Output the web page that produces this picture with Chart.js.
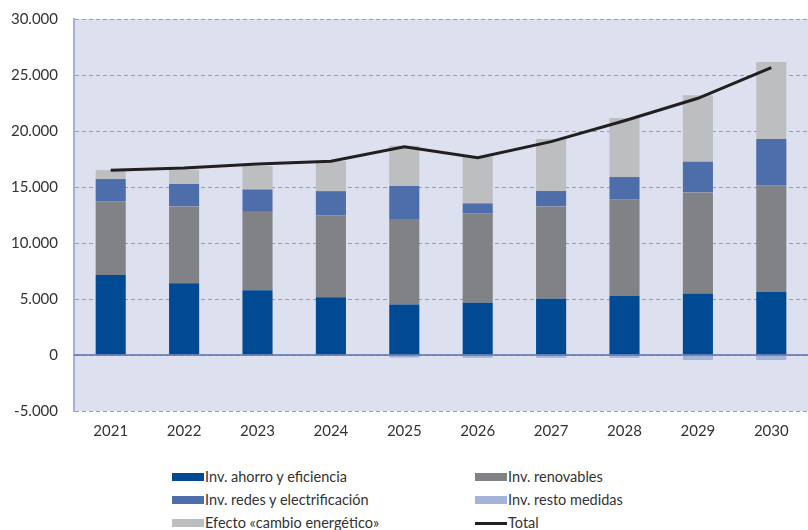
<!DOCTYPE html>
<html>
<head>
<meta charset="utf-8">
<script src="https://cdn.jsdelivr.net/npm/chart.js@4"></script>
<style>
  body { margin: 0; background: #fff; font-family: Lato, sans-serif; }
  #wrap { position: relative; width: 808px; height: 530px; overflow: hidden; }
  #box { position: absolute; left: 0; top: 0; width: 808px; height: 445px; }
  .leg { position: absolute; font-size: 14.5px; color: #333; white-space: nowrap; line-height: 16px; }
  .sw { display: inline-block; width: 32px; height: 8px; vertical-align: middle; margin-right: 1px; position: relative; top: -1px; }
  .ln { height: 3px; }
</style>
</head>
<body>
<div id="wrap">
  <div id="box"><canvas id="chart"></canvas></div>
  <div class="leg" style="left:172px;top:469px"><span class="sw" style="background:#004a93"></span>Inv. ahorro y eficiencia</div>
  <div class="leg" style="left:475px;top:469px"><span class="sw" style="background:#808285"></span>Inv. renovables</div>
  <div class="leg" style="left:172px;top:492px"><span class="sw" style="background:#4d6eab"></span>Inv. redes y electrificación</div>
  <div class="leg" style="left:475px;top:492px"><span class="sw" style="background:#a4b3d8"></span>Inv. resto medidas</div>
  <div class="leg" style="left:172px;top:515px"><span class="sw" style="background:#bcbec0"></span>Efecto «cambio energético»</div>
  <div class="leg" style="left:475px;top:515px"><span class="sw ln" style="background:#231f20"></span>Total</div>
</div>
<script>
// Datos
const years = ['2021', '2022', '2023', '2024', '2025', '2026', '2027', '2028', '2029', '2030'];
const ahorro = [7150, 6400, 5780, 5150, 4520, 4670, 5030, 5300, 5480, 5650];
const renovables = [6580, 6870, 7000, 7330, 7620, 7980, 8240, 8600, 9040, 9500];
const redes = [1980, 2000, 2000, 2150, 2950, 890, 1370, 1990, 2740, 4140];
const resto = [0, 0, 0, 0, -230, -250, -250, -250, -450, -450];
const efecto = [800, 1280, 2100, 2680, 3600, 4170, 4650, 5270, 5930, 6870];
const total = [16500, 16700, 17050, 17300, 18600, 17620, 19050, 20920, 22920, 25650];

function fmt(v) {
    const s = Math.abs(v).toString().replace(/\B(?=(\d{3})+(?!\d))/g, '.');
    return (v < 0 ? '-' : '') + s;
}

// Fondo y linea del cero
const plotBg = {
    id: 'plotBg',
    beforeDraw(chart) {
        const a = chart.chartArea, ctx = chart.ctx;
        ctx.save();
        ctx.fillStyle = '#dde0ef';
        ctx.fillRect(a.left, a.top, a.right - a.left, a.bottom - a.top);
        ctx.restore();
    },
    afterDatasetsDraw(chart) {
        const a = chart.chartArea, ctx = chart.ctx;
        const y0 = chart.scales.y.getPixelForValue(0);
        ctx.save();
        ctx.strokeStyle = '#5a72b0';
        ctx.lineWidth = 1.5;
        ctx.beginPath();
        ctx.moveTo(a.left, y0);
        ctx.lineTo(a.right, y0);
        ctx.stroke();
        ctx.restore();
    }
};

const barOpts = { type: 'bar', stack: 's', order: 1, barPercentage: 0.41, categoryPercentage: 1 };

new Chart(document.getElementById('chart'), {
    data: {
        labels: years,
        datasets: [
            Object.assign({ label: 'Inv. ahorro y eficiencia', data: ahorro, backgroundColor: '#004a93' }, barOpts),
            Object.assign({ label: 'Inv. renovables', data: renovables, backgroundColor: '#808285' }, barOpts),
            Object.assign({ label: 'Inv. redes y electrificación', data: redes, backgroundColor: '#4d6eab' }, barOpts),
            Object.assign({ label: 'Inv. resto medidas', data: resto, backgroundColor: '#a4b3d8' }, barOpts),
            Object.assign({ label: 'Efecto «cambio energético»', data: efecto, backgroundColor: '#bcbec0' }, barOpts),
            {
                type: 'line', label: 'Total', data: total, stack: 't', order: 0,
                borderColor: '#231f20', borderWidth: 3, pointRadius: 0, tension: 0, fill: false
            }
        ]
    },
    options: {
        responsive: true,
        maintainAspectRatio: false,
        animation: false,
        layout: { padding: { top: 19, right: 0, bottom: 0, left: 0 } },
        plugins: { legend: { display: false }, tooltip: { enabled: false } },
        scales: {
            x: {
                stacked: true,
                grid: { display: false, drawTicks: false },
                border: { display: false },
                ticks: { color: '#333', font: { family: 'Lato', size: 15 }, padding: 11 },
                afterFit(s) { s.height = 34; }
            },
            y: {
                stacked: true,
                min: -5000,
                max: 30000,
                grid: { color: '#8c9bd0', lineWidth: 1, drawTicks: false },
                border: { display: true, color: '#a3b0d8', width: 2, dash: [4, 3] },
                ticks: {
                    stepSize: 5000, color: '#333', padding: 16,
                    font: { family: 'Lato', size: 15 },
                    callback: v => fmt(v)
                },
                afterFit(s) { s.width = 74; s.paddingTop = 0; s.paddingBottom = 0; }
            }
        }
    },
    plugins: [plotBg]
});
</script>
</body>
</html>
